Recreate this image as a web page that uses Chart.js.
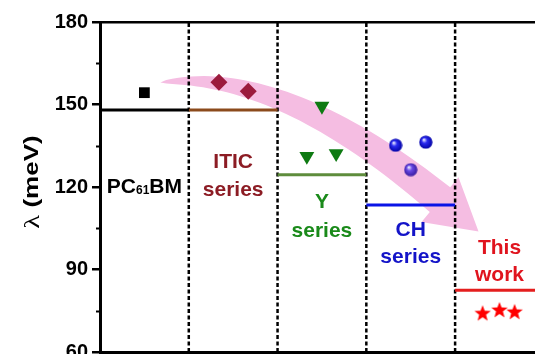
<!DOCTYPE html>
<html lang="en">
<head>
  <meta charset="UTF-8">
  <title>Reorganization energy</title>
  <script src="https://cdn.jsdelivr.net/npm/chart.js"></script>
  <style>
    html, body { margin: 0; padding: 0; background: #fff; }
    #box { width: 535px; height: 354px; position: relative; }
  </style>
</head>
<body>
  <div id="box"><canvas id="grafico"></canvas></div>

  <script>
    // one column per acceptor family
    const grupos = ['PC61BM', 'ITIC series', 'Y series', 'CH series', 'This work'];
    const niveis = [148, 148, 124.5, 113.5, 82.5];
    const divisorias = [1, 2, 3, 4];
    const yMinor = [75, 105, 135, 165];

    const pcbm = [{ x: 0.5, y: 154.3 }];
    const itic = [{ x: 1.34, y: 158.1 }, { x: 1.67, y: 154.8 }];
    const ySerie = [{ x: 2.5, y: 149.4 }, { x: 2.33, y: 131.2 }, { x: 2.66, y: 132.2 }];
    const chSerie = [{ x: 3.33, y: 135.2 }, { x: 3.67, y: 136.3 }];
    const chSerie2 = [{ x: 3.5, y: 126.3 }];
    const esteTrabalho = [{ x: 4.31, y: 74.1 }, { x: 4.5, y: 75.3 }, { x: 4.67, y: 74.6 }];

    const coresNivel = ['#000000', '#8B4A1C', '#5E8C3C', '#0A14E6', '#E41E1E'];
    const coresTexto = ['#000000', '#8C1C24', '#1A8A1A', '#1414C8', '#E0141E'];

    // label rows per column (data units)
    const rotulos = [
      { x: 0.5, linhas: [{ y: 120, partes: [['PC'], ['61', true], ['BM']] }] },
      { x: 1.5, linhas: [{ y: 128.9, partes: [['ITIC']] }, { y: 119, partes: [['series']] }] },
      { x: 2.5, linhas: [{ y: 114.3, partes: [['Y']] }, { y: 104, partes: [['series']] }] },
      { x: 3.5, linhas: [{ y: 104.4, partes: [['CH']] }, { y: 94.6, partes: [['series']] }] },
      { x: 4.5, linhas: [{ y: 97.9, partes: [['This']] }, { y: 88, partes: [['work']] }] }
    ];

    // pink trend arrow: quadratic centre line in data units
    const seta = {
      inicio: { x: 0.68, y: 158 },
      controle: { x: 2.03, y: 163.5 },
      fim: { x: 3.83, y: 115.4 }
    };

    function bolinha(meio, borda) {
      const c = document.createElement('canvas');
      c.width = c.height = 14;
      const g = c.getContext('2d');
      const grad = g.createRadialGradient(5, 4.5, 0.5, 7, 7, 7);
      grad.addColorStop(0, '#e4e4ff');
      grad.addColorStop(0.35, meio);
      grad.addColorStop(1, borda);
      g.fillStyle = grad;
      g.beginPath();
      g.arc(7, 7, 6.6, 0, Math.PI * 2);
      g.fill();
      return c;
    }

    function estrela(cor) {
      const c = document.createElement('canvas');
      c.width = c.height = 18;
      const g = c.getContext('2d');
      g.fillStyle = cor;
      g.beginPath();
      for (let i = 0; i < 10; i++) {
        const r = i % 2 === 0 ? 8.6 : 3.6;
        const a = -Math.PI / 2 + i * Math.PI / 5;
        const px = 9 + r * Math.cos(a);
        const py = 9.5 + r * Math.sin(a);
        if (i === 0) g.moveTo(px, py); else g.lineTo(px, py);
      }
      g.closePath();
      g.fill();
      return c;
    }

    const pluginSeta = {
      id: 'seta',
      beforeDatasetsDraw(chart) {
        const { ctx, scales: { x, y } } = chart;
        const p = pt => ({ x: x.getPixelForValue(pt.x), y: y.getPixelForValue(pt.y) });
        const a = p(seta.inicio), b = p(seta.controle), c = p(seta.fim);
        const cima = [], baixo = [];
        const n = 40;
        for (let i = 0; i <= n; i++) {
          const t = i / n;
          const cx = (1 - t) * (1 - t) * a.x + 2 * t * (1 - t) * b.x + t * t * c.x;
          const cy = (1 - t) * (1 - t) * a.y + 2 * t * (1 - t) * b.y + t * t * c.y;
          const dx = 2 * (1 - t) * (b.x - a.x) + 2 * t * (c.x - b.x);
          const dy = 2 * (1 - t) * (b.y - a.y) + 2 * t * (c.y - b.y);
          const len = Math.hypot(dx, dy);
          const nx = -dy / len, ny = dx / len;
          const w = 16 * Math.pow(t, 0.6);
          cima.push([cx - nx * w, cy - ny * w]);
          baixo.push([cx + nx * w, cy + ny * w]);
        }
        const dx = c.x - b.x, dy = c.y - b.y;
        const len = Math.hypot(dx, dy);
        const ux = dx / len, uy = dy / len;
        const nx = -uy, ny = ux;
        ctx.save();
        ctx.fillStyle = '#F5BDE2';
        ctx.beginPath();
        cima.forEach(([px, py], i) => i ? ctx.lineTo(px, py) : ctx.moveTo(px, py));
        ctx.lineTo(c.x - nx * 29, c.y - ny * 29);
        ctx.lineTo(c.x + ux * 50, c.y + uy * 50);
        ctx.lineTo(c.x + nx * 29, c.y + ny * 29);
        for (let i = baixo.length - 1; i >= 0; i--) ctx.lineTo(baixo[i][0], baixo[i][1]);
        ctx.closePath();
        ctx.fill();
        ctx.restore();
      }
    };

    const pluginTextos = {
      id: 'textos',
      afterDatasetsDraw(chart) {
        const { ctx, scales: { x, y }, chartArea } = chart;
        ctx.save();
        ctx.textBaseline = 'middle';
        ctx.textAlign = 'left';
        const fonte = 'bold 21px "Liberation Sans", Arial, sans-serif';
        const fonteSub = 'bold 12px "Liberation Sans", Arial, sans-serif';
        rotulos.forEach((r, i) => {
          ctx.fillStyle = coresTexto[i];
          r.linhas.forEach(l => {
            let total = 0;
            l.partes.forEach(([t, sub]) => {
              ctx.font = sub ? fonteSub : fonte;
              total += ctx.measureText(t).width;
            });
            let px = x.getPixelForValue(r.x) - total / 2;
            const py = y.getPixelForValue(l.y);
            l.partes.forEach(([t, sub]) => {
              ctx.font = sub ? fonteSub : fonte;
              ctx.fillText(t, px, sub ? py + 4 : py);
              px += ctx.measureText(t).width;
            });
          });
        });

        // minor ticks on the value axis
        ctx.strokeStyle = '#000';
        ctx.lineWidth = 2;
        yMinor.forEach(v => {
          const py = Math.round(y.getPixelForValue(v)) + 0.5;
          ctx.beginPath();
          ctx.moveTo(chartArea.left - 4, py);
          ctx.lineTo(chartArea.left, py);
          ctx.stroke();
        });

        // axis title: λ in serif, unit in bold sans, stretched along the axis
        ctx.translate(32, 182);
        ctx.rotate(-Math.PI / 2);
        ctx.scale(1.3, 1);
        ctx.fillStyle = '#000';
        const fl = '22px "Liberation Serif", "Times New Roman", serif';
        const fu = 'bold 20px "Liberation Sans", Arial, sans-serif';
        ctx.font = fl;
        const wl = ctx.measureText('λ ').width;
        ctx.font = fu;
        const wu = ctx.measureText('(meV)').width;
        let sx = -(wl + wu) / 2;
        ctx.font = fl;
        ctx.fillText('λ ', sx, 1);
        ctx.font = fu;
        ctx.fillText('(meV)', sx + wl, 0);
        ctx.restore();
      }
    };

    const datasets = [
      { data: esteTrabalho, pointStyle: estrela('#FF0000') },
      { data: chSerie, pointStyle: bolinha('#2a2af0', '#0000a0') },
      { data: chSerie2, pointStyle: bolinha('#6a4ae6', '#34189a') },
      { data: ySerie, pointStyle: 'triangle', rotation: 180, pointRadius: 8.6, backgroundColor: '#0E7A12', borderColor: '#0E7A12' },
      { data: itic, pointStyle: 'rectRot', pointRadius: 8.5, backgroundColor: '#9B1B3D', borderColor: '#9B1B3D' },
      { data: pcbm, pointStyle: 'rect', pointRadius: 7.6, backgroundColor: '#000', borderColor: '#000' }
    ].map(d => Object.assign({ showLine: false, pointRadius: 7, borderWidth: 0 }, d));

    niveis.forEach((v, i) => {
      datasets.push({
        label: grupos[i],
        data: [{ x: i, y: v }, { x: i + 1, y: v }],
        showLine: true, borderColor: coresNivel[i], borderWidth: 3, pointRadius: 0
      });
    });

    divisorias.forEach(d => {
      datasets.push({
        data: [{ x: d, y: 60 }, { x: d, y: 180 }],
        showLine: true, borderColor: '#000', borderWidth: 2.5, borderDash: [4, 2.5], pointRadius: 0
      });
    });

    new Chart(document.getElementById('grafico'), {
      type: 'scatter',
      data: { datasets },
      options: {
        responsive: true,
        maintainAspectRatio: false,
        animation: false,
        layout: { autoPadding: false, padding: { top: 22, bottom: 2, left: 0, right: 0 } },
        plugins: { legend: { display: false }, tooltip: { enabled: false } },
        scales: {
          x: {
            type: 'linear', min: 0, max: 4.9,
            ticks: { display: false },
            grid: { display: false },
            border: { color: '#000', width: 3 },
            afterFit: s => { s.height = 0; }
          },
          x2: {
            type: 'linear', position: 'top', display: true, min: 0, max: 4.9,
            ticks: { display: false },
            grid: { display: false },
            border: { color: '#000', width: 2.5 },
            afterFit: s => { s.height = 0; }
          },
          y: {
            min: 60, max: 180,
            ticks: {
              stepSize: 30, padding: 4, color: '#000',
              font: { family: '"Liberation Sans", Arial, sans-serif', size: 20, weight: 'bold' }
            },
            grid: { drawOnChartArea: false, drawTicks: true, tickLength: 8, lineWidth: 2.5, color: '#000' },
            border: { color: '#000', width: 3 },
            afterFit: s => { s.width = 100; s.paddingTop = 0; s.paddingBottom = 0; }
          }
        }
      },
      plugins: [pluginSeta, pluginTextos]
    });
  </script>
</body>
</html>
